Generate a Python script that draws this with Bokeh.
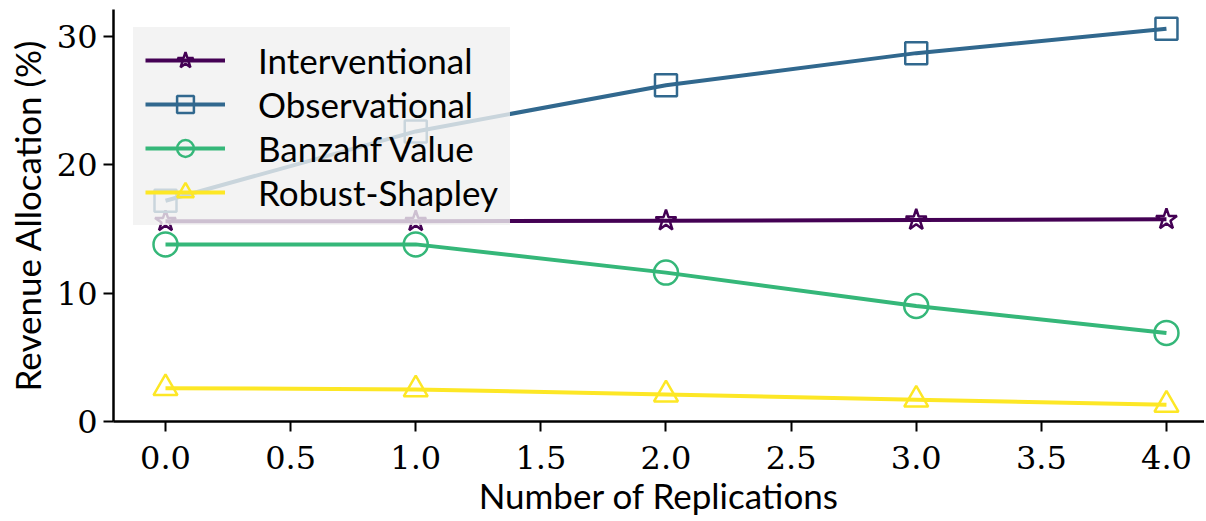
from bokeh.plotting import figure
from bokeh.models import Range1d, FixedTicker, NumeralTickFormatter, Legend, LegendItem
from bokeh.embed import file_html
from bokeh.resources import INLINE

replications = [0, 1, 2, 3, 4]
interventional = [15.6, 15.6, 15.65, 15.7, 15.75]
observational = [17.2, 22.6, 26.2, 28.7, 30.6]
banzhaf = [13.8, 13.8, 11.6, 9.0, 6.9]
robust_shapley = [2.6, 2.5, 2.1, 1.7, 1.3]

series = [
    ("Interventional", interventional, "#440154", "star"),
    ("Observational", observational, "#31688e", "square"),
    ("Banzahf Value", banzhaf, "#35b779", "circle"),
    ("Robust-Shapley", robust_shapley, "#fde725", "triangle"),
]
marker_sizes = {"star": 22, "square": 22, "circle": 24, "triangle": 24}

x_ticks = [0, 0.5, 1, 1.5, 2, 2.5, 3, 3.5, 4]
y_ticks = [0, 10, 20, 30]
x_label_text = "Number of Replications"
y_label_text = "Revenue Allocation (%)"

p = figure(width=1204, height=520, output_backend="svg", toolbar_location=None,
           x_range=Range1d(-0.2078, 4.152), y_range=Range1d(0, 32.1),
           min_border_left=113, min_border_right=0, min_border_top=9, min_border_bottom=99)
p.outline_line_color = None
p.grid.visible = False
p.background_fill_color = "white"

items = []
for label, vals, color, marker in series:
    lr = p.line(replications, vals, line_color=color, line_width=4)
    sr = p.scatter(replications, vals, marker=marker, size=marker_sizes[marker],
                   line_color=color, line_width=2.5, fill_alpha=0)
    items.append(LegendItem(label=label, renderers=[lr, sr]))

legend = Legend(items=items, location=(20, 196))
legend.background_fill_color = "#f0f0f0"
legend.background_fill_alpha = 0.8
legend.border_line_color = "#f0f0f0"
legend.border_line_alpha = 0.0
legend.label_text_font = "Lato"
legend.label_text_font_size = "35px"
legend.label_text_color = "black"
legend.glyph_width = 80
legend.glyph_height = 42
legend.label_height = 42
legend.spacing = 2
legend.label_standoff = 33
legend.padding = 12
legend.margin = 0
p.add_layout(legend, "center")

for ax in (p.xaxis[0], p.yaxis[0]):
    ax.axis_line_width = 2.5
    ax.axis_line_color = "black"
    ax.major_tick_line_width = 2
    ax.major_tick_line_color = "black"
    ax.major_tick_out = 10
    ax.major_tick_in = 0
    ax.minor_tick_line_color = None
    ax.major_label_text_font = "DejaVu Serif"
    ax.major_label_text_font_size = "32px"
    ax.major_label_text_color = "black"
    ax.axis_label_text_font = "Lato"
    ax.axis_label_text_font_size = "35px"
    ax.axis_label_text_font_style = "normal"
    ax.axis_label_text_color = "black"

p.xaxis.ticker = FixedTicker(ticks=x_ticks)
p.xaxis.formatter = NumeralTickFormatter(format="0.0")
p.yaxis.ticker = FixedTicker(ticks=y_ticks)
p.yaxis.formatter = NumeralTickFormatter(format="0")
p.xaxis.axis_label = x_label_text
p.yaxis.axis_label = y_label_text
p.xaxis.major_label_standoff = 14
p.yaxis.major_label_standoff = 6
p.xaxis.axis_label_standoff = 2
p.yaxis.axis_label_standoff = 6

open("out.html", "w").write(file_html(p, INLINE))
